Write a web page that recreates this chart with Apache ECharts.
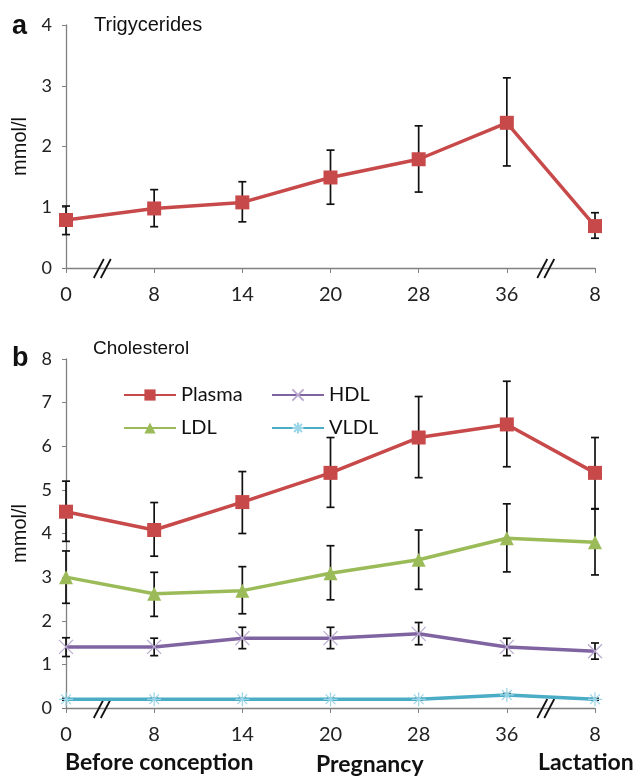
<!DOCTYPE html>
<html><head><meta charset="utf-8">
<script src="https://cdn.jsdelivr.net/npm/echarts@6/dist/echarts.min.js"></script>
<style>html,body{margin:0;padding:0;background:#fff}#c{width:643px;height:777px}</style>
</head><body><div id="c"></div>
<script>
var xLabels = ['0','8','14','20','28','36','8'];
var tgMean = [0.79, 0.98, 1.08, 1.49, 1.79, 2.39, 0.69];
var tgLow  = [0.55, 0.68, 0.76, 1.05, 1.25, 1.68, 0.49];
var tgHigh = [1.02, 1.29, 1.42, 1.94, 2.34, 3.13, 0.91];

var plasmaMean = [4.5, 4.08, 4.72, 5.39, 6.2, 6.5, 5.39];
var plasmaLow  = [3.82, 3.48, 4.0, 4.6, 5.28, 5.53, 4.57];
var plasmaHigh = [5.2, 4.71, 5.42, 6.2, 7.14, 7.49, 6.2];
var ldlMean = [3.0, 2.62, 2.69, 3.09, 3.4, 3.89, 3.8];
var ldlLow  = [2.4, 2.1, 2.16, 2.48, 2.72, 3.12, 3.05];
var ldlHigh = [3.6, 3.11, 3.24, 3.72, 4.08, 4.68, 4.56];
var hdlMean = [1.4, 1.4, 1.6, 1.6, 1.7, 1.4, 1.3];
var hdlLow  = [1.18, 1.2, 1.36, 1.36, 1.45, 1.2, 1.12];
var hdlHigh = [1.61, 1.6, 1.85, 1.85, 1.96, 1.6, 1.49];
var vldlMean = [0.2, 0.2, 0.2, 0.2, 0.2, 0.3, 0.2];
var vldlLow  = [0.18, 0.18, 0.18, 0.18, 0.18, 0.27, 0.18];
var vldlHigh = [0.22, 0.22, 0.22, 0.22, 0.22, 0.33, 0.22];
var breakPos = [0.44, 5.47];

var RED = '#c8494a', GREEN = '#9bbb59', PURPLE = '#8064a2', CYAN = '#4bacc6';
var FONT = 'Lato, "Open Sans", sans-serif';
var ARIAL = '"Liberation Sans", Arial, sans-serif';

function pairs(arr){ return arr.map(function(v,i){ return [i, v]; }); }
function errData(lo, hi){ return lo.map(function(v,i){ return [i, v, hi[i]]; }); }
function errSeries(idx, lo, hi){
  return {
    type:'custom', xAxisIndex: idx, yAxisIndex: idx, z: 5, silent:true,
    data: errData(lo, hi),
    renderItem: function(params, api){
      var x = api.value(0);
      var a = api.coord([x, api.value(1)]);
      var b = api.coord([x, api.value(2)]);
      var w = 4;
      var st = {stroke:'#111', lineWidth:1.7};
      return {type:'group', children:[
        {type:'line', shape:{x1:a[0],y1:a[1],x2:b[0],y2:b[1]}, style:st},
        {type:'line', shape:{x1:a[0]-w,y1:a[1],x2:a[0]+w,y2:a[1]}, style:st},
        {type:'line', shape:{x1:b[0]-w,y1:b[1],x2:b[0]+w,y2:b[1]}, style:st}
      ]};
    }
  };
}
function breakSeries(idx){
  return {
    type:'custom', xAxisIndex: idx, yAxisIndex: idx, z: 6, silent:true,
    data: breakPos.map(function(p){ return [p, 0]; }),
    renderItem: function(params, api){
      var p = api.coord([api.value(0), api.value(1)]);
      var st = {stroke:'#111', lineWidth:1.8};
      return {type:'group', children:[
        {type:'line', shape:{x1:p[0]-11,y1:p[1]+10,x2:p[0]-1,y2:p[1]-9}, style:st},
        {type:'line', shape:{x1:p[0]-4,y1:p[1]+10,x2:p[0]+6,y2:p[1]-9}, style:st}
      ]};
    }
  };
}
function xAxis(idx){
  return {
    type:'value', gridIndex: idx, min:0, max:6, interval:1,
    splitLine:{show:false},
    axisLine:{show:true, lineStyle:{color:'#808080', width:1.3}},
    axisTick:{show:true, length:5, lineStyle:{color:'#808080'}},
    axisLabel:{color:'#222', fontSize:20, fontFamily:FONT, margin:17,
      formatter:function(v){ return xLabels[Math.round(v)]; }}
  };
}
function yAxis(idx, max){
  return {
    type:'value', gridIndex: idx, min:0, max:max, interval:1,
    name:'mmol/l', nameLocation:'middle', nameGap:32,
    nameTextStyle:{color:'#111', fontSize:20, fontFamily:ARIAL},
    splitLine:{show:false},
    axisLine:{show:true, lineStyle:{color:'#808080', width:1.3}},
    axisTick:{show:true, length:4, lineStyle:{color:'#808080'}},
    axisLabel:{color:'#222', fontSize:18, fontFamily:FONT, margin:14}
  };
}
var xSym = 'path://M0,0L10,10M10,0L0,10';
var starSym = 'path://M5,0L5,10M0,5L10,5M1.5,1.5L8.5,8.5M8.5,1.5L1.5,8.5';
var legText = {fontSize:20, lineHeight:20, fontFamily:FONT, color:'#111'};

var chart = echarts.init(document.getElementById('c'), null, {renderer:'canvas'});
chart.setOption({
  animation:false,
  backgroundColor:'#fff',
  grid:[
    {left:66, right:48, top:25, bottom:509},
    {left:66, right:48, top:359, bottom:69}
  ],
  xAxis:[xAxis(0), xAxis(1)],
  yAxis:[yAxis(0,4), yAxis(1,8)],
  legend:[
    {left:118, top:380, orient:'vertical', data:['Plasma','LDL'], itemWidth:52, itemHeight:14, itemGap:13,
      textStyle:legText},
    {left:266, top:380, orient:'vertical', data:['HDL','VLDL'], itemWidth:52, itemHeight:14, itemGap:13,
      textStyle:legText}
  ],
  graphic:[
    {type:'text', left:12, top:13, style:{text:'a', font:'bold 27px '+ARIAL, fill:'#111'}},
    {type:'text', left:94, top:15, style:{text:'Trigycerides', font:'20px '+ARIAL, fill:'#111'}},
    {type:'text', left:12, top:345, style:{text:'b', font:'bold 27px '+ARIAL, fill:'#111'}},
    {type:'text', left:93, top:339, style:{text:'Cholesterol', font:'19px '+ARIAL, fill:'#111'}},
    {type:'text', left:65, top:751, style:{text:'Before conception', font:'bold 23px '+FONT, fill:'#111'}},
    {type:'text', left:316, top:753, style:{text:'Pregnancy', font:'bold 23px '+FONT, fill:'#111'}},
    {type:'text', left:538, top:751, style:{text:'Lactation', font:'bold 23px '+FONT, fill:'#111'}}
  ],
  series:[
    {name:'Triglycerides', type:'line', xAxisIndex:0, yAxisIndex:0, data:pairs(tgMean), z:10,
      symbol:'rect', symbolSize:14, lineStyle:{color:RED, width:3.5}, itemStyle:{color:RED}},
    errSeries(0, tgLow, tgHigh),
    breakSeries(0),
    {name:'Plasma', type:'line', xAxisIndex:1, yAxisIndex:1, data:pairs(plasmaMean), z:10,
      symbol:'rect', symbolSize:14, lineStyle:{color:RED, width:3.5}, itemStyle:{color:RED}},
    {name:'LDL', type:'line', xAxisIndex:1, yAxisIndex:1, data:pairs(ldlMean), z:10,
      symbol:'triangle', symbolSize:14, lineStyle:{color:GREEN, width:3.5}, itemStyle:{color:GREEN}},
    {name:'HDL', type:'line', xAxisIndex:1, yAxisIndex:1, data:pairs(hdlMean), z:10,
      symbol:xSym, symbolSize:14, lineStyle:{color:PURPLE, width:3.5},
      itemStyle:{color:PURPLE, borderColor:'#b9a9cf', borderWidth:1.2}},
    {name:'VLDL', type:'line', xAxisIndex:1, yAxisIndex:1, data:pairs(vldlMean), z:10,
      symbol:starSym, symbolSize:14, lineStyle:{color:CYAN, width:3.5},
      itemStyle:{color:CYAN, borderColor:'#9ad6e8', borderWidth:1.2}},
    errSeries(1, plasmaLow, plasmaHigh),
    errSeries(1, ldlLow, ldlHigh),
    errSeries(1, hdlLow, hdlHigh),
    errSeries(1, vldlLow, vldlHigh),
    breakSeries(1)
  ]
});
</script></body></html>
